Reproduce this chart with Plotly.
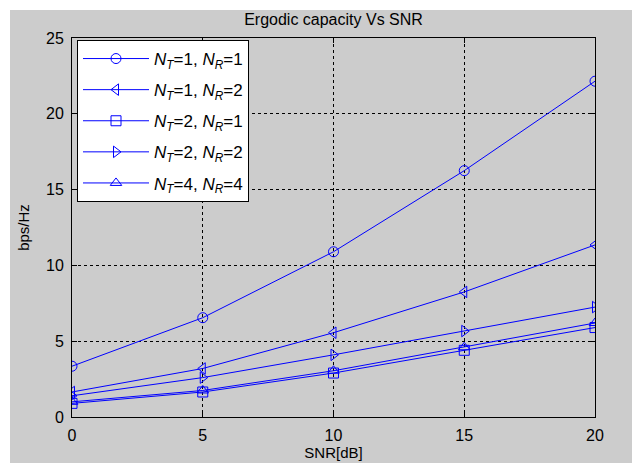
import plotly.graph_objects as go

snr_db = [0, 5, 10, 15, 20]
cap_1x1 = [3.35, 6.55, 10.9, 16.25, 22.15]
cap_1x2 = [1.65, 3.2, 5.56, 8.25, 11.35]
cap_2x1 = [0.9, 1.65, 2.9, 4.4, 5.9]
cap_2x2 = [1.4, 2.6, 4.1, 5.67, 7.25]
cap_4x4 = [1.0, 1.75, 3.05, 4.6, 6.2]

series_names = [
    "<i>N</i><sub><i>T</i></sub>=1, <i>N</i><sub><i>R</i></sub>=1",
    "<i>N</i><sub><i>T</i></sub>=1, <i>N</i><sub><i>R</i></sub>=2",
    "<i>N</i><sub><i>T</i></sub>=2, <i>N</i><sub><i>R</i></sub>=1",
    "<i>N</i><sub><i>T</i></sub>=2, <i>N</i><sub><i>R</i></sub>=2",
    "<i>N</i><sub><i>T</i></sub>=4, <i>N</i><sub><i>R</i></sub>=4",
]
series_values = [cap_1x1, cap_1x2, cap_2x1, cap_2x2, cap_4x4]
symbols = ["circle-open", "triangle-left-open", "square-open", "triangle-right-open", "triangle-up-open"]

x_ticks = [0, 5, 10, 15, 20]
y_ticks = [0, 5, 10, 15, 20, 25]

BLUE = "#0000ff"
FONT = "Liberation Sans, Arial, sans-serif"

fig = go.Figure()
for i, (name, vals, sym) in enumerate(zip(series_names, series_values, symbols)):
    fig.add_trace(go.Scatter(
        x=snr_db, y=vals, name=name, mode="lines+markers", legendgroup=f"g{i}",
        line=dict(color=BLUE, width=1),
        marker=dict(symbol=sym, size=10, color=BLUE, line=dict(color=BLUE, width=1)),
    ))

W, H = 642, 463
L, R, T, B = 72, 47, 38, 46
pw, ph = W - L - R, H - T - B

def px2paper_x(px):
    return (px - L) / pw

def px2paper_y(py):
    return (H - B - py) / ph

fig.add_shape(type="rect", xref="paper", yref="paper",
              x0=px2paper_x(10), x1=px2paper_x(632),
              y0=px2paper_y(463), y1=px2paper_y(10),
              fillcolor="#cccccc", line=dict(width=0), layer="below")

axis_common = dict(
    showline=True, linecolor="black", linewidth=1, mirror="ticks",
    ticks="inside", ticklen=5, tickcolor="black", automargin=False,
    showgrid=True, gridcolor="black", griddash="3px,3px", gridwidth=1,
    zeroline=False, tickfont=dict(family=FONT, size=16, color="black"),
)

fig.update_layout(
    width=W, height=H,
    margin=dict(l=L, r=R, t=T, b=B, autoexpand=False),
    paper_bgcolor="white", plot_bgcolor="white",
    title=dict(text="Ergodic capacity Vs SNR", x=0.5 * (L + W - R) / W, xanchor="center",
               y=1 - 19 / H, yanchor="middle",
               font=dict(family=FONT, size=16, color="black")),
    xaxis=dict(range=[0, 20], tickvals=x_ticks, ticktext=[str(v) for v in x_ticks],
               ticklabelstandoff=4,
               title=dict(text="SNR[dB]", standoff=0, font=dict(family=FONT, size=15, color="black")),
               **axis_common),
    yaxis=dict(range=[0, 25], tickvals=y_ticks, ticktext=[str(v) for v in y_ticks],
               ticklabelstandoff=4,
               title=dict(text="bps/Hz", standoff=12, font=dict(family=FONT, size=15, color="black")),
               **axis_common),
    legend=dict(x=px2paper_x(77), y=px2paper_y(40), xanchor="left", yanchor="top",
                bgcolor="white", bordercolor="black", borderwidth=1,
                font=dict(family=FONT, size=17, color="black"),
                itemwidth=66, tracegroupgap=6),
    showlegend=True,
)

fig.write_html("out.html")
